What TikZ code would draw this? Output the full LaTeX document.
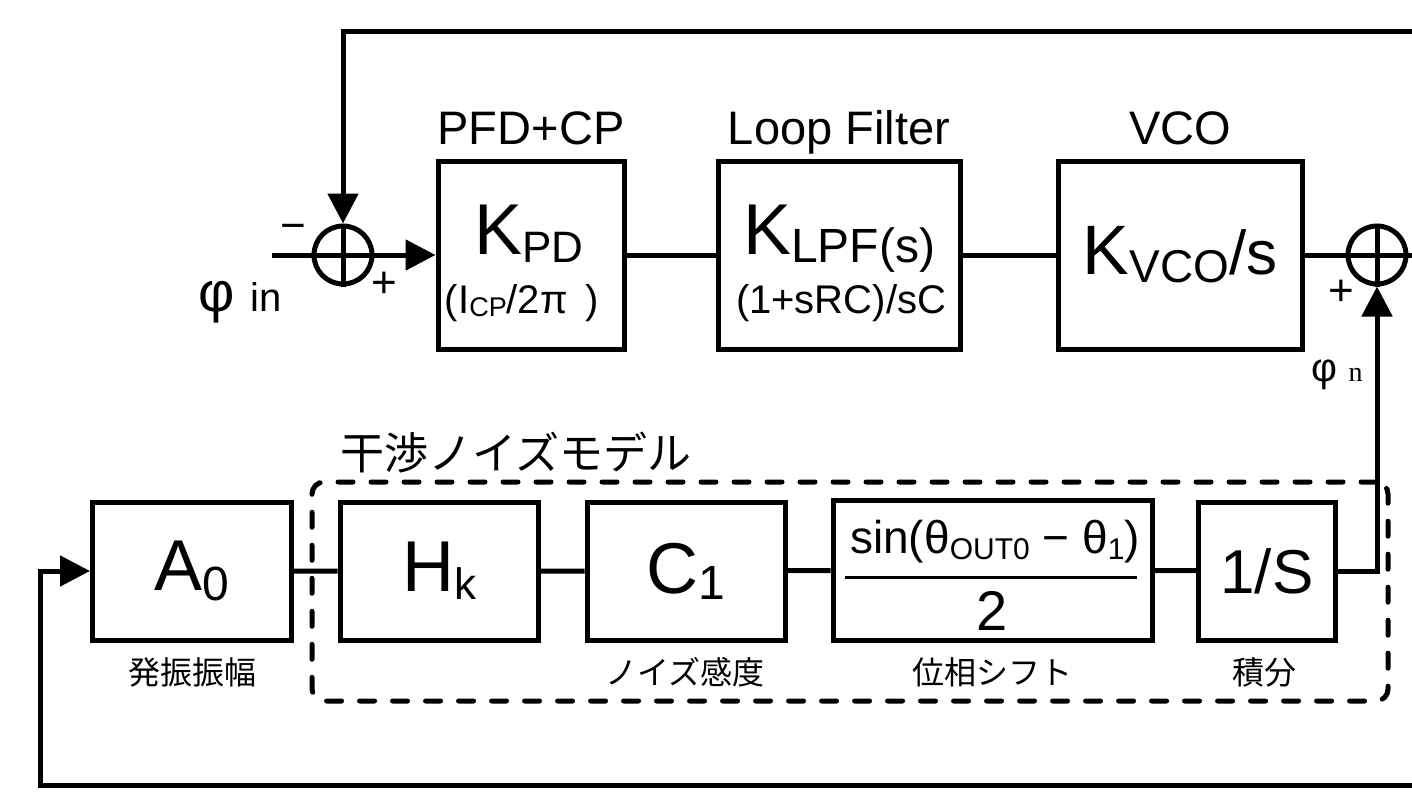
\documentclass[tikz,border=0pt]{standalone}
\usepackage{fontspec}
\setmainfont{Liberation Sans}
\newfontfamily\jpfont{Noto Sans CJK JP}
\newfontfamily\seriffont{Liberation Serif}
\usetikzlibrary{arrows.meta}
\newcommand{\fs}[1]{\fontsize{#1}{#1}\selectfont}
\newcommand{\lowsub}[3]{\raisebox{-#1}{\fs{#2}#3}}

\begin{document}
\begin{tikzpicture}[x=0.5pt,y=-0.5pt,line width=2.5pt,>={Triangle[length=15pt,width=15pt]},
blk/.style={draw,rectangle,inner sep=0pt,minimum height=94pt},
lowblk/.style={blk,minimum height=69pt},
sumnode/.style={draw,circle,minimum size=29pt,inner sep=0pt},
lbl/.style={inner sep=0pt,anchor=base},
jp/.style={inner sep=0pt,font=\jpfont\fs{16}}]
\useasboundingbox (0,0) rectangle (1412,792);
\node[blk,minimum width=93pt] (pfd) at (531,255) {};
\node[blk,minimum width=121pt] (lpf) at (839,255) {};
\node[blk,minimum width=122pt] (vco) at (1180,255) {\fs{35}K\lowsub{4pt}{23}{VCO}\fs{31}/s};
\node[sumnode] (sa) at (343,255) {};
\node[sumnode] (sb) at (1377,255) {};
\node[lbl] (tpfd) at (531,144) {\fs{23.5}PFD+CP};
\node[lbl] (tlpf) at (839,144) {\fs{23.5}Loop Filter};
\node[lbl] (tvco) at (1180,144) {\fs{23.5}VCO};
\node[lbl] (kpd) at (529,254) {\fs{36}K\lowsub{4pt}{22}{PD}};
\node[lbl] (icp) at (522,313) {\fs{20}(I\lowsub{1.5pt}{13.5}{CP}/2π\hspace{9pt})};
\node[lbl] (klpf) at (839,254) {\fs{36}K\lowsub{4pt}{24}{LPF(s)}};
\node[lbl] (rc) at (841,313) {\fs{20}(1+sRC)/sC};
\node[lbl,font=\fs{28}] (phin) at (240,311) {φ \fs{20}in};
\node[font=\fs{22}] (msa) at (293,232) {−};
\node[font=\fs{22}] (psa) at (384,285) {+};
\node[font=\fs{22}] (psb) at (1341,293) {+};
\node[lbl,font=\fs{20}] (phn) at (1337,381) {φ \seriffont\fs{14}n};
\coordinate (pin) at (272,255);
\coordinate (pout) at (1412,255);
\coordinate (ftop) at (1412,32);
\coordinate (fbot) at (1412,785);
\coordinate (fcorner) at (40,785);
\foreach \s in {sa,sb}
  \draw (\s.north) -- (\s.south) (\s.west) -- (\s.east);
\draw (pin) -- (sa.west);
\draw[->] (sa.east) -- (pfd.west);
\draw (pfd) -- (lpf) (lpf) -- (vco) (vco) -- (sb) (sb.east) -- (pout);
\draw[->] (ftop) -| (sa.north);
\node[draw,dash pattern=on 7.5pt off 9pt,line cap=round,rounded corners=6pt,minimum width=538pt,minimum height=109.5pt] (grp) at (850,591.5) {};
\node[anchor=west,inner sep=0pt,font=\jpfont\fs{22}] (ttl) at (338,453) {干渉ノイズモデル};
\node[lowblk,minimum width=99.5pt] (amp) at (192,571) {\fs{36}A\lowsub{5pt}{24}{0}};
\node[lowblk,minimum width=99pt] (hk) at (439,571) {\fs{36}H\lowsub{4pt}{22}{k}};
\node[lowblk,minimum width=99pt] (cn) at (686,571) {\fs{36}C\lowsub{3pt}{24}{1}};
\node[lowblk,minimum width=159.5pt,minimum height=70pt] (sh) at (992.5,570) {};
\node[lowblk,minimum width=68.5pt] (ig) at (1267,571) {\fs{31}1/S};
\node[lbl] (num) at (995,553) {\fs{23}sin(θ\lowsub{3pt}{15}{OUT0} − θ\lowsub{3pt}{15}{1})};
\node[lbl] (den) at (992.5,630) {\fs{28}2};
\draw[line width=1.5pt] (845,577) -- (1137,577);
\node[jp] (j1) at (192,672) {発振振幅};
\node[jp] (j2) at (685,672) {ノイズ感度};
\node[jp] (j3) at (992,672) {位相シフト};
\node[jp] (j4) at (1264,672) {積分};
\draw (amp) -- (hk) (hk) -- (cn) (cn) -- (sh) (sh) -- (ig);
\draw[->] (ig.east) -| (sb.south);
\draw[->] (fbot) -- (fcorner) |- (amp.west);
\end{tikzpicture}
\end{document}
